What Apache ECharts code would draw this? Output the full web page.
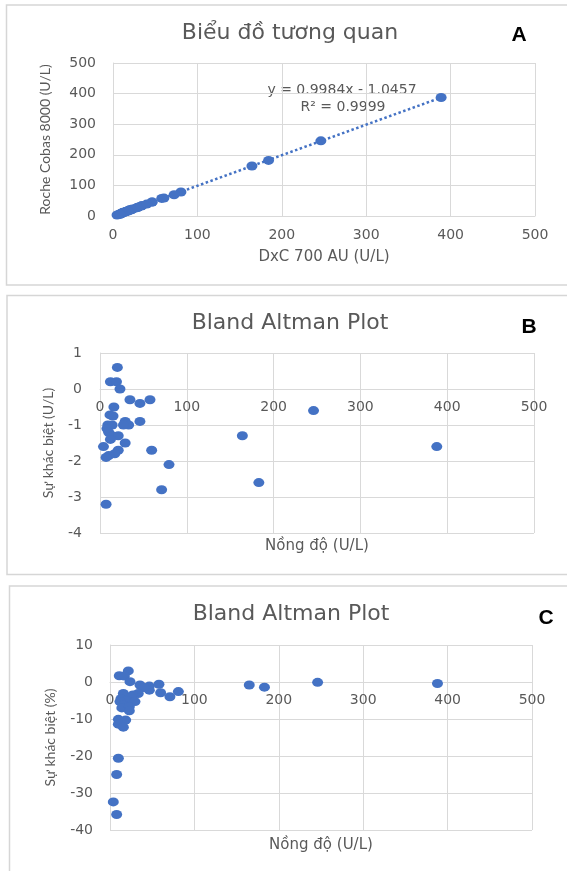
<!DOCTYPE html>
<html>
<head>
<meta charset="utf-8">
<script src="https://cdn.jsdelivr.net/npm/echarts@6/dist/echarts.min.js"></script>
<style>
html, body { margin: 0; padding: 0; background: #fff; }
#chart { width: 567px; height: 871px; }
</style>
</head>
<body>
<div id="chart"></div>
<script>
// A - correlation: [DxC 700 AU, Roche Cobas 8000]
var corrData = [
  [19.7, 20.3], [11.9, 12.1], [18.9, 19.1], [23, 23], [34.6, 34.3], [46.2, 45.8],
  [57.7, 57.4], [16.2, 15.7], [11.9, 11.1], [15.4, 14.6], [29.4, 28.5], [33.5, 32.5],
  [27.5, 26.5], [46.4, 45.5], [9.5, 8.5], [14.5, 13.5], [8.5, 7.4], [10.6, 9.4],
  [14.6, 13.3], [21.6, 20.3], [12.7, 11.3], [29.7, 28.2], [4.8, 3.2], [60.3, 58.6],
  [21.8, 20.1], [17.9, 16.1], [10.9, 9.1], [8, 6], [80.5, 78.4], [72.4, 69.6],
  [8.6, 5.4], [40, 39], [164.6, 163.3], [184.3, 181.7], [246.3, 245.7], [388.8, 387.2]
];
// trendline as printed on the chart
var trendSlope = 0.9984;
var trendIntercept = -1.0457;
var trendX = [4, 389];

// B - Bland Altman, absolute difference: [mean, difference U/L]
var diffData = [
  [20, 0.6], [12, 0.2], [19, 0.2], [23, 0], [34.5, -0.3], [46, -0.4], [57.6, -0.3],
  [16, -0.5], [11.5, -0.72], [15, -0.75], [29, -0.9], [33, -1.0], [27, -1.0],
  [46, -0.9], [9, -1.0], [14, -1.0], [8, -1.1], [10, -1.2], [14, -1.3], [21, -1.3],
  [12, -1.4], [29, -1.5], [4, -1.6], [59.5, -1.7], [21, -1.7], [17, -1.8],
  [10, -1.85], [7, -1.9], [79.5, -2.1], [71, -2.8], [7, -3.2],
  [164, -1.3], [183, -2.6], [246, -0.6], [388, -1.6]
];

// C - Bland Altman, percent difference: [mean, difference %]
var pctData = [
  [21.7, 3.0], [11, 1.7], [17, 1.6], [23.7, 0.1], [35.5, -0.8], [46.6, -1.1],
  [58, -0.6], [46.6, -2.2], [40, -1.5], [15.8, -3.1], [33.5, -3.1], [60, -2.9],
  [71, -4.0], [81, -2.6], [27, -3.5], [25.7, -4.1], [13, -4.5], [19, -5],
  [29.6, -5.3], [11.8, -5.3], [15.8, -6.2], [14, -7], [22.9, -6.7], [22.9, -7.8],
  [9.9, -10.1], [18.6, -10.3], [9.9, -11.4], [15.8, -12.2], [9.9, -20.6],
  [7.9, -25], [3.9, -32.4], [7.9, -35.8],
  [165, -0.8], [183, -1.4], [246, -0.1], [388, -0.4]
];

var concRange = [0, 500];
var corrYRange = [0, 500];
var diffRange = [-4, 1];
var pctRange = [-40, 10];

var gray = '#595959';
var gridColor = '#D9D9D9';
var dotColor = '#4472C4';

function valueAxis(grid, range, step, margin, extra) {
  var ax = {
    type: 'value',
    gridIndex: grid,
    min: range[0],
    max: range[1],
    interval: step,
    axisLine: { show: true, onZero: false, lineStyle: { color: gridColor, width: 1 } },
    axisTick: { show: false },
    splitLine: { show: true, lineStyle: { color: gridColor, width: 1 } },
    axisLabel: { color: gray, fontSize: 14, fontFamily: 'DejaVu Sans', margin: margin },
    nameLocation: 'middle',
    nameTextStyle: { color: gray, fontSize: 15, fontFamily: 'DejaVu Sans' }
  };
  return Object.assign(ax, extra);
}

var yNameStyle = { color: gray, fontSize: 14, fontFamily: 'Lato' };

function titleText(text, x, y) {
  return {
    type: 'text', x: x, y: y,
    style: { text: text, align: 'center', verticalAlign: 'middle',
      font: '22px "DejaVu Sans"', fill: gray }
  };
}
function letterText(text, x, y) {
  return {
    type: 'text', x: x, y: y,
    style: { text: text, align: 'center', verticalAlign: 'middle',
      font: 'bold 21px "Liberation Sans"', fill: '#000' }
  };
}
function frame(x, y, h) {
  return {
    type: 'rect', shape: { x: x, y: y, width: 600, height: h },
    style: { fill: 'none', stroke: '#D6D6D6', lineWidth: 1.5 }
  };
}

var myChart = echarts.init(document.getElementById('chart'));
myChart.setOption({
  animation: false,
  backgroundColor: '#fff',
  graphic: [
    frame(6.5, 5, 280),
    frame(7, 295.5, 279),
    frame(9.5, 586, 310),
    titleText('Biểu đồ tương quan', 290, 33),
    titleText('Bland Altman Plot', 290, 323),
    titleText('Bland Altman Plot', 291, 614),
    letterText('A', 519, 35),
    letterText('B', 529, 327),
    letterText('C', 546, 618),
    {
      type: 'text', x: 342, y: 90,
      style: { text: 'y = 0.9984x - 1.0457', align: 'center', verticalAlign: 'middle',
        font: '14px "DejaVu Sans"', fill: gray }
    },
    {
      type: 'text', x: 343, y: 107,
      style: { text: 'R² = 0.9999', align: 'center', verticalAlign: 'middle',
        font: '14px "DejaVu Sans"', fill: gray }
    }
  ],
  grid: [
    { left: 113, top: 63, width: 422, height: 153, outerBoundsMode: 'none', containLabel: false },
    { left: 100, top: 353, width: 434, height: 180, outerBoundsMode: 'none', containLabel: false },
    { left: 110, top: 645, width: 422, height: 185, outerBoundsMode: 'none', containLabel: false }
  ],
  xAxis: [
    valueAxis(0, concRange, 100, 12, { name: 'DxC 700 AU (U/L)', nameGap: 34 }),
    // Bland Altman x axes sit on the zero line: shifted up from the grid bottom
    valueAxis(1, concRange, 100, 11, { name: 'Nồng độ (U/L)', nameGap: 150, offset: -144 }),
    valueAxis(2, concRange, 100, 11, { name: 'Nồng độ (U/L)', nameGap: 156, offset: -148 })
  ],
  yAxis: [
    valueAxis(0, corrYRange, 100, 17, { name: 'Roche Cobas 8000 (U/L)', nameGap: 61, nameTextStyle: yNameStyle }),
    valueAxis(1, diffRange, 1, 18, { name: 'Sự khác biệt (U/L)', nameGap: 45, nameTextStyle: yNameStyle }),
    valueAxis(2, pctRange, 10, 17, { name: 'Sự khác biệt (%)', nameGap: 53, nameTextStyle: yNameStyle })
  ],
  series: [
    {
      type: 'line',
      xAxisIndex: 0, yAxisIndex: 0,
      data: trendX.map(function (x) { return [x, trendSlope * x + trendIntercept]; }),
      showSymbol: false,
      silent: true,
      lineStyle: { type: 'dotted', width: 2.5, color: dotColor },
      z: 1
    },
    {
      type: 'scatter', xAxisIndex: 0, yAxisIndex: 0,
      data: corrData, symbolSize: [11, 9],
      itemStyle: { color: dotColor, opacity: 1 }, z: 3
    },
    {
      type: 'scatter', xAxisIndex: 1, yAxisIndex: 1,
      data: diffData, symbolSize: [11, 9],
      itemStyle: { color: dotColor, opacity: 1 }, z: 3
    },
    {
      type: 'scatter', xAxisIndex: 2, yAxisIndex: 2,
      data: pctData, symbolSize: [11, 9],
      itemStyle: { color: dotColor, opacity: 1 }, z: 3
    }
  ]
});
</script>
</body>
</html>
